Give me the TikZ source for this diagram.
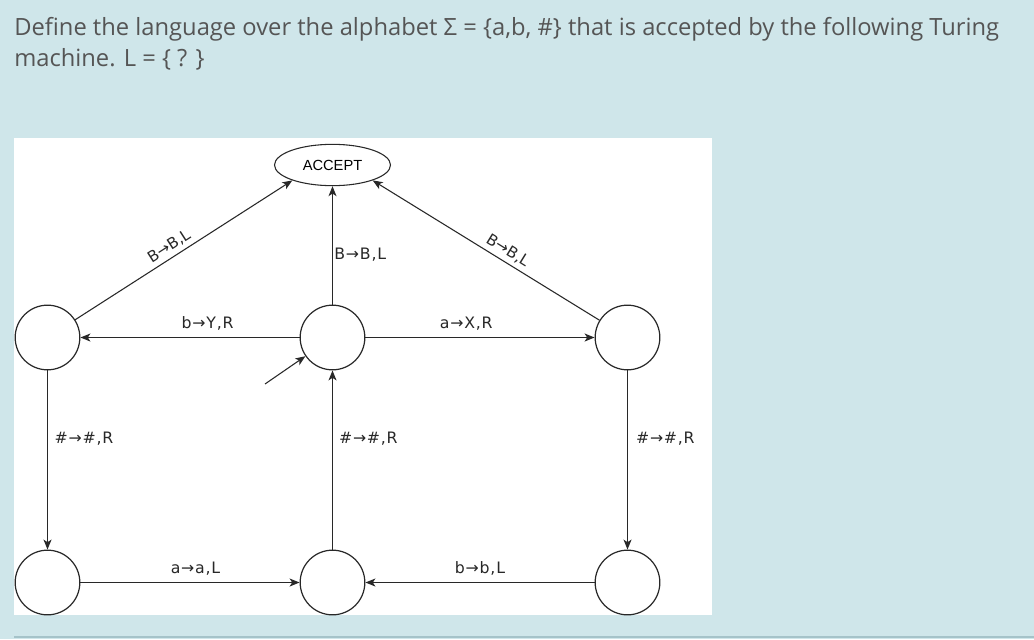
\documentclass[tikz,border=0pt]{standalone}
\usepackage{fontspec}
\setmainfont{Open Sans}
\newfontfamily\lblfont[LetterSpace=5]{DejaVu Sans}
\newfontfamily\slopefont{DejaVu Sans}
\newfontfamily\arialfont{Liberation Sans}
\usetikzlibrary{arrows.meta,shapes.geometric}
\definecolor{pagebg}{RGB}{207,230,234}
\definecolor{ruleline}{RGB}{165,195,201}
\definecolor{titlegray}{RGB}{85,85,85}
\definecolor{edgegray}{RGB}{40,40,40}

\begin{document}
\begin{tikzpicture}[
  x=0.75pt,y=-0.75pt,
  state/.style={draw=edgegray,circle,minimum size=48.5pt,inner sep=0pt,line width=.9pt,fill=white},
  final/.style={draw=edgegray,ellipse,minimum width=87pt,minimum height=31pt,inner sep=0pt,line width=.8pt,fill=white,font=\arialfont\fontsize{11}{13}\selectfont},
  trans/.style={font=\lblfont\fontsize{11.8}{13}\selectfont,inner sep=1pt,text=edgegray},
  slopelbl/.style={font=\slopefont\fontsize{11.5}{13}\selectfont,inner sep=1pt,text=edgegray,sloped},
  edge/.style={draw=edgegray,line width=.8pt,-{Stealth[length=7.5pt,width=6pt,inset=2pt]}}
]
  \fill[pagebg] (0,0) rectangle (1034,639);
  \useasboundingbox (0,0) rectangle (1034,639);
  \fill[white] (14,138) rectangle (712,615);
  \draw[ruleline,line width=1.2pt] (14,637) -- (1034,637);

  \node[anchor=north west,align=left,inner sep=0pt,text=titlegray,
        font=\fontsize{17.8}{23.3}\selectfont] (question) at (14,17)
    {Define the language over the alphabet Σ = \{a,b, \#\} that is accepted by the following Turing\\
     machine. L = \{ ? \}};

  % states
  \node[state] (qb) at (47.5,337.5) {};
  \node[state] (q0) at (332.5,337.5) {};
  \node[state] (qa) at (627.5,337.5) {};
  \node[state] (pb) at (47.5,582.5) {};
  \node[state] (pc) at (332.5,582.5) {};
  \node[state] (pa) at (627.5,582.5) {};
  \node[final] (acc) at (332.5,165) {ACCEPT};
  \coordinate (start) at (265,384);

  % transitions
  \draw[edge] (start) -- (q0);
  \draw[edge] (q0) -- node[trans,pos=.42,above=4pt] {b→Y,R} (qb);
  \draw[edge] (q0) -- node[trans,pos=.44,above=4pt] {a→X,R} (qa);
  \draw[edge] (q0) -- node[trans,pos=.42,right=0pt] {B→B,L} (acc);
  \draw[edge] (qb) -- node[slopelbl,pos=.46,above=2pt] {B→B,L} (acc.201);
  \draw[edge] (qa) -- node[slopelbl,pos=.43,above=2pt] {B→B,L} (acc.339);
  \draw[edge] (qb) -- node[trans,pos=.38,right=4pt] {\#→\#,R} (pb);
  \draw[edge] (qa) -- node[trans,pos=.38,right=5pt] {\#→\#,R} (pa);
  \draw[edge] (pc) -- node[trans,pos=.62,right=3.5pt] {\#→\#,R} (q0);
  \draw[edge] (pb) -- node[trans,pos=.525,above=4pt] {a→a,L} (pc);
  \draw[edge] (pa) -- node[trans,pos=.5,above=4pt] {b→b,L} (pc);
\end{tikzpicture}
\end{document}
